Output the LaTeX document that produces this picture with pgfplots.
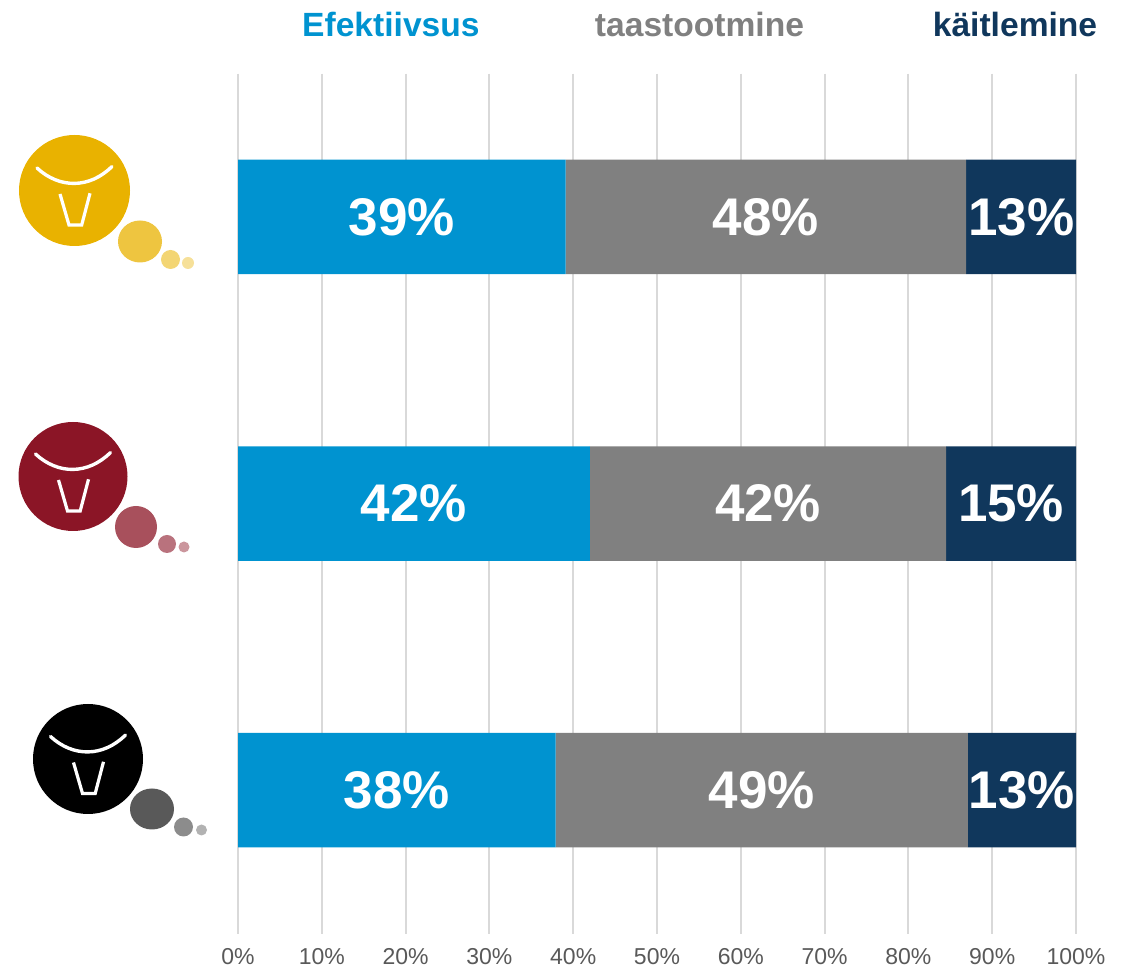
\documentclass[border=0pt]{standalone}
\usepackage{pgfplots}
\usepackage{pgfplotstable}
\pgfplotsset{compat=1.18}
\usepackage{fontspec}
\setmainfont{Liberation Sans}

\definecolor{cblue}{HTML}{0093D0}
\definecolor{cgray}{HTML}{808080}
\definecolor{cnavy}{HTML}{10375C}
\definecolor{cgrid}{HTML}{D9D9D9}
\definecolor{ctick}{HTML}{595959}
\definecolor{gold}{HTML}{E9B200}
\definecolor{wine}{HTML}{8B1526}

% y: row, a/b/c: bar shares, la/lb/lc: printed labels
\pgfplotstableread{
y a    b    c    la lb lc
0 39.1 47.8 13.1 39 48 13
1 42.0 42.5 15.5 42 42 15
2 37.9 49.2 12.9 38 49 13
}\shares

% #1 x, #2 y, #3 colour, #4 radius, #5 bubbles
\newcommand{\bull}[5]{%
  \begin{scope}[shift={(#1,#2)}]
    \fill[#3] (0,0) circle[radius=#4];
    \draw[white,line width=3.4pt,line cap=round] (-37.5,-22.5) .. controls (-15,-1.7) and (15,-1.7) .. (37.5,-24);
    \draw[white,line width=3.2pt,line join=miter] (-14.5,3.5) -- (-5.5,34.5) -- (7.2,34.5) -- (15.5,2.8);
    #5
  \end{scope}}

\begin{document}
\begin{tikzpicture}[x=1pt,y=1pt]
\useasboundingbox (0,0) rectangle (1127,972);

\begin{axis}[
    at={(238pt,38.5pt)}, anchor=south west,
    scale only axis,
    width=838pt, height=860pt,
    xbar stacked,
    bar width=114.5pt,
    xmin=0, xmax=100,
    ymin=-0.5, ymax=2.5,
    y dir=reverse,
    axis line style={draw=none},
    ytick=\empty,
    xtick={0,10,...,100},
    xticklabels={0\%,10\%,20\%,30\%,40\%,50\%,60\%,70\%,80\%,90\%,100\%},
    major tick length=0pt,
    xmajorgrids,
    major grid style={cgrid,line width=2pt},
    tick label style={font=\fontsize{23}{26}\selectfont,text=ctick},
    xticklabel style={yshift=-11pt},
    point meta=explicit symbolic,
    nodes near coords={\pgfplotspointmeta\%},
    every node near coord/.append style={font=\fontsize{53}{60}\bfseries\selectfont,text=white},
]
\addplot[fill=cblue,draw=none] table[x=a,y=y,meta=la] {\shares};
\addplot[fill=cgray,draw=none] table[x=b,y=y,meta=lb] {\shares};
\addplot[fill=cnavy,draw=none] table[x=c,y=y,meta=lc] {\shares};
\end{axis}

\begin{scope}[y=-1pt,yshift=972pt]
  % column headings
  \node[font=\fontsize{33.6}{44}\bfseries\selectfont,text=cblue,align=left,anchor=base west,inner sep=0pt] at (302,37) {Tootlikus ja\\Efektiivsus};
  \node[font=\fontsize{33.6}{44}\bfseries\selectfont,text=cgray,align=center,anchor=base,inner sep=0pt] at (699.5,37) {Tervis ja\\taastootmine};
  \node[font=\fontsize{33.6}{44}\bfseries\selectfont,text=cnavy,align=center,anchor=base,inner sep=0pt] at (1015,37) {Välimik ja\\käitlemine};

  % bull logos
  \bull{74.5}{190.5}{gold}{55.5}{
    \fill[gold!75] (65.5,51) ellipse[x radius=22,y radius=21];
    \fill[gold!55] (96,69) circle[radius=9.5];
    \fill[gold!40] (113.5,72.5) circle[radius=6];}
  \bull{73}{476.5}{wine}{54.5}{
    \fill[wine!75] (63,50.5) circle[radius=21];
    \fill[wine!60] (94,67.5) circle[radius=9];
    \fill[wine!45] (111,70.5) circle[radius=5.5];}
  \bull{88}{759}{black}{55}{
    \fill[black!65] (64,50) ellipse[x radius=22,y radius=20.5];
    \fill[black!45] (95.5,68) circle[radius=9.5];
    \fill[black!30] (113.5,71) circle[radius=5.5];}
\end{scope}
\end{tikzpicture}
\end{document}
